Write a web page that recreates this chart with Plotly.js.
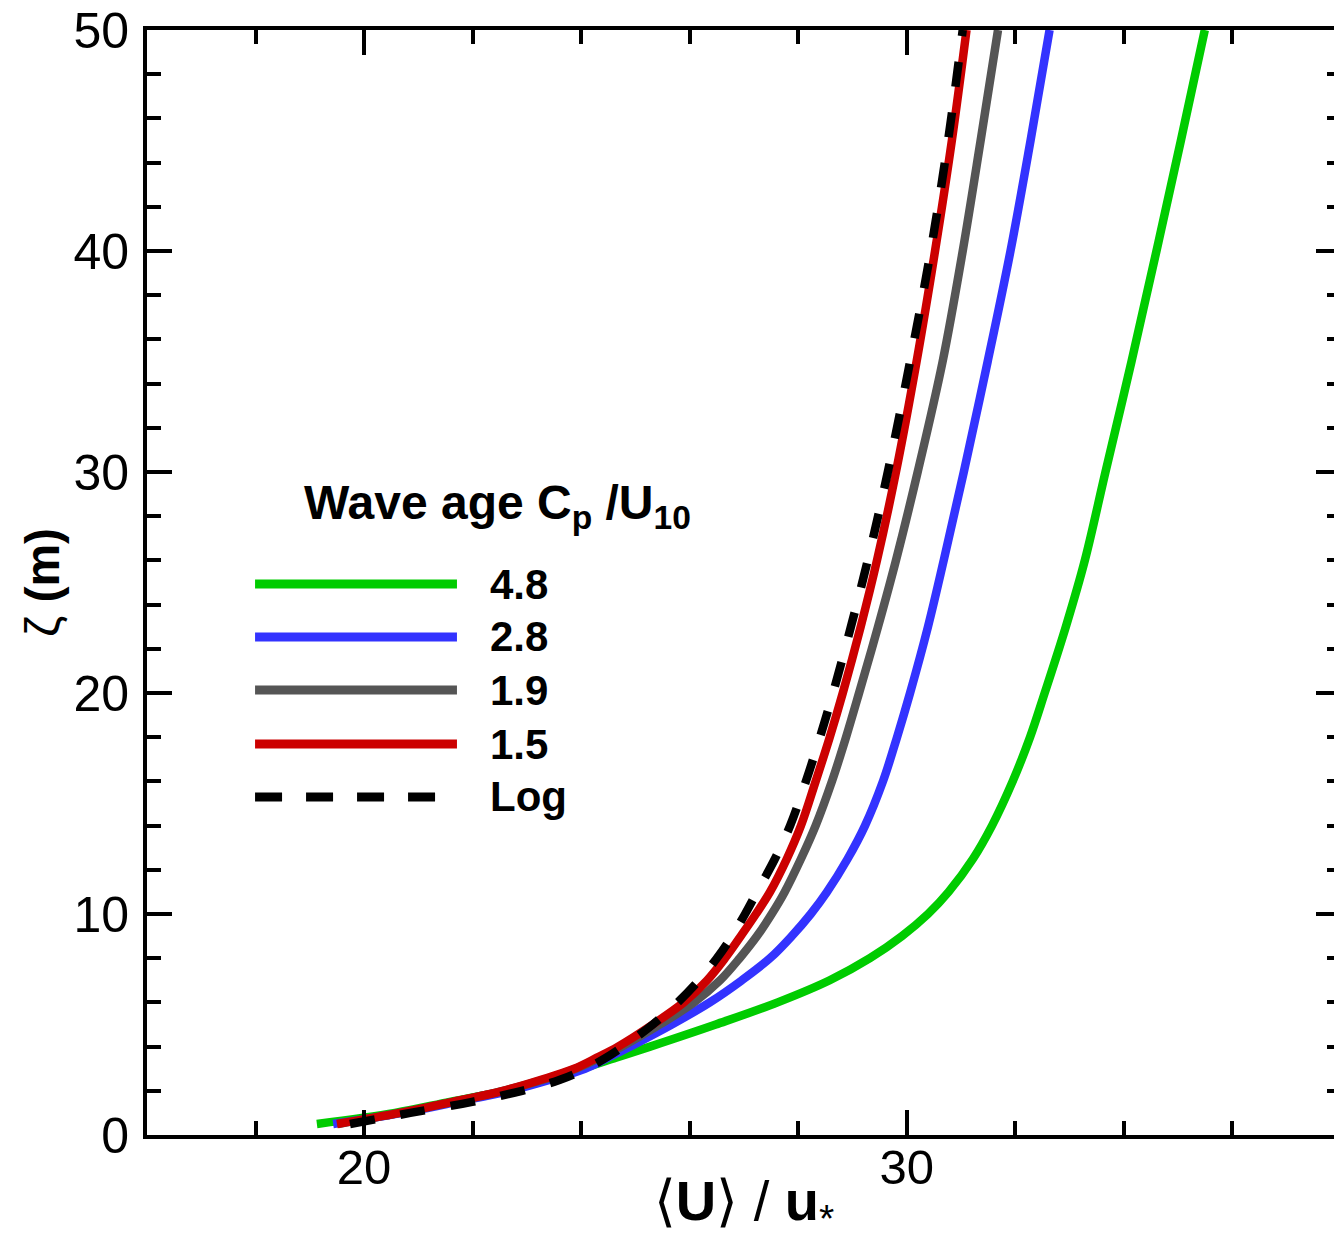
<!DOCTYPE html>
<html>
<head>
<meta charset="utf-8">
<script src="https://cdn.plot.ly/plotly-3.0.1.min.js"></script>
<style>
html,body{margin:0;padding:0;overflow:hidden;background:#fff;}
#chart{width:1342px;height:1240px;}
</style>
</head>
<body>
<div id="chart"></div>
<script>
// Heights zeta (m)
const zeta = [0.5, 1, 1.5, 2, 2.5, 3, 3.5, 4, 5, 6, 7, 8, 9, 10, 11, 12.5, 14, 16, 18, 20, 23, 26, 30, 35, 40, 45, 50];
// <U>/u* for each wave age
const U_48 = [19.13, 20.57, 21.58, 22.60, 23.33, 24.01, 24.64, 25.27, 26.48, 27.62, 28.58, 29.32, 29.91, 30.39, 30.77, 31.22, 31.57, 31.95, 32.27, 32.54, 32.93, 33.28, 33.66, 34.14, 34.60, 35.05, 35.49];
const U_28 = [19.43, 20.70, 21.71, 22.69, 23.43, 24.07, 24.49, 24.90, 25.67, 26.37, 26.96, 27.48, 27.88, 28.23, 28.53, 28.91, 29.23, 29.56, 29.82, 30.06, 30.39, 30.68, 31.05, 31.49, 31.91, 32.28, 32.63];
const U_19 = [19.52, 20.66, 21.64, 22.56, 23.30, 23.90, 24.35, 24.75, 25.45, 26.08, 26.56, 26.92, 27.24, 27.51, 27.75, 28.05, 28.32, 28.62, 28.88, 29.12, 29.47, 29.80, 30.20, 30.66, 31.03, 31.36, 31.68];
const U_15 = [19.50, 20.66, 21.64, 22.56, 23.26, 23.87, 24.29, 24.68, 25.32, 25.89, 26.32, 26.65, 26.94, 27.22, 27.48, 27.79, 28.05, 28.32, 28.58, 28.82, 29.15, 29.45, 29.80, 30.18, 30.52, 30.83, 31.10];
const U_log = [19.74, 20.85, 21.99, 22.91, 23.61, 24.09, 24.46, 24.77, 25.32, 25.78, 26.17, 26.50, 26.78, 27.02, 27.24, 27.57, 27.85, 28.14, 28.40, 28.64, 28.97, 29.28, 29.65, 30.06, 30.44, 30.76, 31.03];

const seriesNames = ['4.8', '2.8', '1.9', '1.5', 'Log'];
const seriesColors = ['#00cc00', '#3333ff', '#555555', '#cc0000', '#000000'];
const xTickVals = [20, 30];
const yTickVals = [0, 10, 20, 30, 40, 50];

const FONT = 'Liberation Sans, Arial, Helvetica, sans-serif';
const seriesU = [U_48, U_28, U_19, U_15, U_log];

const traces = seriesU.map((u, i) => ({
  x: u, y: zeta, type: 'scatter', mode: 'lines', name: seriesNames[i],
  line: {color: seriesColors[i], width: 8.5, shape: 'spline', smoothing: 1.0,
         dash: i === 4 ? '25px,26px' : 'solid'},
  showlegend: false, hoverinfo: 'skip'
}));

// custom legend (long sample lines as in the original)
const legRowsY = [0.4986, 0.4507, 0.4027, 0.3538, 0.3059];
const shapes = [];
const annotations = [];
seriesNames.forEach((n, i) => {
  shapes.push({type: 'line', xref: 'paper', yref: 'paper',
    x0: 0.0905, x1: i === 4 ? 0.2420 : 0.2596, y0: legRowsY[i], y1: legRowsY[i],
    line: {color: seriesColors[i], width: 9, dash: i === 4 ? '27px,24px' : 'solid'}});
  annotations.push({xref: 'paper', yref: 'paper', x: 0.2860, y: legRowsY[i],
    xanchor: 'left', yanchor: 'middle', showarrow: false, text: n,
    font: {family: FONT, size: 42, weight: 'bold', color: '#000'}});
});
annotations.push({xref: 'paper', yref: 'paper', x: 0.1300, y: 0.5690,
  xanchor: 'left', yanchor: 'middle', showarrow: false,
  text: 'Wave age C<sub>p</sub> /U<sub>10</sub>',
  font: {family: FONT, size: 48, weight: 'bold', color: '#000'}});

const layout = {
  width: 1342, height: 1240,
  margin: {l: 147, r: 1, t: 30, b: 105, pad: 0},
  paper_bgcolor: '#fff', plot_bgcolor: '#fff',
  font: {family: FONT, color: '#000'},
  xaxis: {
    range: [16, 38], tickvals: xTickVals, ticktext: xTickVals.map(String),
    ticks: 'inside', ticklen: 25, tickwidth: 4, tickcolor: '#000',
    minor: {dtick: 2, tick0: 0, ticks: 'inside', ticklen: 14, tickwidth: 4, tickcolor: '#000'},
    showline: true, linewidth: 4, linecolor: '#000', mirror: 'allticks',
    showgrid: false, zeroline: false,
    tickfont: {family: FONT, size: 49, color: '#000'},
    ticklabelstandoff: -14,
    title: {text: '⟨<b>U</b>⟩ / <b>u</b><sub>*</sub>', font: {family: FONT, size: 56, color: '#000'}, standoff: 10}
  },
  yaxis: {
    range: [0, 50], tickvals: yTickVals, ticktext: yTickVals.map(String),
    ticks: 'inside', ticklen: 25, tickwidth: 4, tickcolor: '#000',
    minor: {dtick: 2, tick0: 0, ticks: 'inside', ticklen: 14, tickwidth: 4, tickcolor: '#000'},
    showline: true, linewidth: 4, linecolor: '#000', mirror: 'allticks',
    showgrid: false, zeroline: false,
    tickfont: {family: FONT, size: 50, color: '#000'},
    ticklabelstandoff: 4,
    title: {text: 'ζ <b>(m)</b>', font: {family: FONT, size: 48, color: '#000'}, standoff: 0}
  },
  shapes: shapes,
  annotations: annotations,
  showlegend: false
};

Plotly.newPlot('chart', traces, layout, {staticPlot: true, displayModeBar: false});
</script>
</body>
</html>
